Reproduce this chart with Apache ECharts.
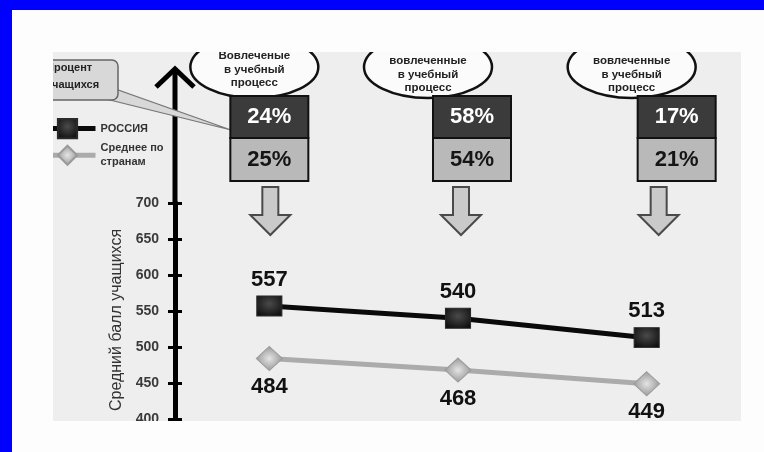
<!DOCTYPE html>
<html>
<head>
<meta charset="utf-8">
<script src="https://cdn.jsdelivr.net/npm/echarts@6/dist/echarts.min.js"></script>
<style>
  html, body { margin: 0; padding: 0; background: #fdfdfd; }
  #main { width: 764px; height: 452px; }
</style>
</head>
<body>
<div id="main"></div>
<script>
// groups of pupils by involvement in the learning process
var categories = ['Вовлеченные', 'Слабо вовлеченные', 'Не вовлеченные'];
var groupCaptions = [
  ['Вовлеченые', 'в учебный', 'процесс'],
  ['Слабо', 'вовлеченные', 'в учебный', 'процесс'],
  ['Не', 'вовлеченные', 'в учебный', 'процесс']
];
var russiaScore = [557, 540, 513];   // средний балл, Россия
var averageScore = [484, 468, 449];  // средний балл, среднее по странам
var russiaShare = [24, 58, 17];      // процент учащихся, Россия
var averageShare = [25, 54, 21];     // процент учащихся, среднее по странам
var yTicks = [400, 450, 500, 550, 600, 650, 700];

var FONT = 'Liberation Sans, Arial, sans-serif';

var dom = document.getElementById('main');
var chart = echarts.init(dom);

chart.setOption({
  animation: false,
  backgroundColor: '#fdfdfd',
  grid: { left: 175, right: 23, top: 203, bottom: 33 },
  legend: {
    orient: 'vertical',
    left: 32,
    top: 113,
    itemWidth: 56,
    itemHeight: 24,
    itemGap: 2,
    z: 4,
    lineStyle: { width: 5 },
    textStyle: { fontFamily: FONT, fontSize: 11, fontWeight: 'bold', color: '#333', lineHeight: 14 },
    data: ['РОССИЯ', 'Среднее по\nстранам']
  },
  xAxis: {
    type: 'category',
    data: categories,
    axisLine: { show: false },
    axisTick: { show: false },
    axisLabel: { show: false }
  },
  yAxis: [{
    type: 'value',
    min: yTicks[0],
    max: yTicks[yTicks.length - 1],
    interval: 50,
    splitLine: { show: false },
    axisLine: { show: true, lineStyle: { color: '#000', width: 5 } },
    axisTick: { show: true, length: 7, lineStyle: { color: '#000', width: 3 } },
    axisLabel: { margin: 16, fontFamily: FONT, fontSize: 14, fontWeight: 'bold', color: '#3a3a3a' }
  }, {
    // second copy only to draw the inner half of the ticks
    type: 'value',
    position: 'left',
    min: yTicks[0],
    max: yTicks[yTicks.length - 1],
    interval: 50,
    splitLine: { show: false },
    axisLine: { show: false },
    axisTick: { show: true, inside: true, length: 7, lineStyle: { color: '#000', width: 3 } },
    axisLabel: { show: false }
  }],
  series: [{
    name: 'РОССИЯ',
    type: 'line',
    data: russiaScore,
    symbol: 'rect',
    symbolSize: [25, 20],
    z: 3,
    lineStyle: { color: '#0a0a0a', width: 5 },
    itemStyle: {
      color: new echarts.graphic.RadialGradient(0.5, 0.4, 0.7, [
        { offset: 0, color: '#4a4a4a' }, { offset: 1, color: '#0a0a0a' }
      ]),
      borderColor: '#2a2a2a',
      borderWidth: 1
    },
    label: {
      show: true, position: 'top', distance: 5,
      fontFamily: FONT, fontSize: 22, fontWeight: 'bold', color: '#111'
    }
  }, {
    name: 'Среднее по\nстранам',
    type: 'line',
    data: averageScore,
    symbol: 'diamond',
    symbolSize: [26, 24],
    lineStyle: { color: '#ababab', width: 5 },
    itemStyle: {
      color: new echarts.graphic.RadialGradient(0.5, 0.5, 0.6, [
        { offset: 0, color: '#e4e4e4' }, { offset: 1, color: '#8a8a8a' }
      ]),
      borderColor: '#9a9a9a',
      borderWidth: 1
    },
    label: {
      show: true, position: 'bottom', distance: 5,
      fontFamily: FONT, fontSize: 22, fontWeight: 'bold', color: '#111'
    }
  }]
});

// annotations on top of the chart, placed from the axis pixels
function buildGraphics() {
  var g = [];
  var p700 = chart.convertToPixel({ gridIndex: 0 }, [0, 700]);
  var p400 = chart.convertToPixel({ gridIndex: 0 }, [0, 400]);
  var axisX = 175; // grid left edge = y axis
  var y700 = p700[1];
  var y400 = p400[1];

  // gray panel behind everything
  g.push({ type: 'rect', z: -10, silent: true,
    shape: { x: 53, y: 52, width: 688, height: 369 },
    style: { fill: '#eeeeee' } });

  // axis line going on to the arrow
  g.push({ type: 'line', z: 5, shape: { x1: axisX, y1: y700, x2: axisX, y2: 70 },
    style: { stroke: '#000', lineWidth: 5 } });
  g.push({ type: 'line', z: 5, shape: { x1: axisX, y1: y400, x2: axisX, y2: 426 },
    style: { stroke: '#000', lineWidth: 5 } });
  g.push({ type: 'polyline', z: 5,
    shape: { points: [[axisX - 19, 87], [axisX, 69], [axisX + 19, 87]] },
    style: { stroke: '#000', lineWidth: 5, fill: null } });

  // y axis title
  g.push({ type: 'text', z: 5, x: axisX - 58, y: y400 - 99, rotation: Math.PI / 2,
    style: { text: 'Средний балл учащихся', fontFamily: FONT, fontSize: 16, fill: '#333',
      align: 'center', verticalAlign: 'middle' } });

  // callout "Процент учащихся"
  g.push({ type: 'polygon', z: 6,
    shape: { points: [[106, 99], [118, 90], [231, 130]] },
    style: { fill: '#d8d8d8', stroke: '#777', lineWidth: 1.2 } });
  g.push({ type: 'rect', z: 6,
    shape: { x: 38, y: 60, width: 80, height: 40, r: 6 },
    style: { fill: '#d8d8d8', stroke: '#666', lineWidth: 1.5 } });
  g.push({ type: 'text', z: 7, x: 46, y: 68,
    style: { text: 'Процент', fontFamily: FONT, fontSize: 11, fontWeight: 'bold', fill: '#222',
      verticalAlign: 'middle' } });
  g.push({ type: 'text', z: 7, x: 46, y: 85,
    style: { text: 'учащихся', fontFamily: FONT, fontSize: 11, fontWeight: 'bold', fill: '#222',
      verticalAlign: 'middle' } });

  var ellipseShift = [-15, -30, -15];
  var boxShift = [0, 14, 30];
  var arrowShift = [1, 3, 12];

  for (var i = 0; i < categories.length; i++) {
    var cx = chart.convertToPixel({ gridIndex: 0 }, [i, 500])[0];

    // ellipse with group caption
    var ex = cx + ellipseShift[i];
    g.push({ type: 'ellipse', z: 6, shape: { cx: ex, cy: 67, rx: 64, ry: 31 },
      style: { fill: '#fbfbfb', stroke: '#111', lineWidth: 2.5 } });
    var lines = groupCaptions[i];
    var lastY = i === 0 ? 83 : 88;
    for (var k = 0; k < lines.length; k++) {
      g.push({ type: 'text', z: 7, x: ex, y: lastY - (lines.length - 1 - k) * 13.5,
        style: { text: lines[k], fontFamily: FONT, fontSize: 11.5, fontWeight: 'bold', fill: '#222',
          align: 'center', verticalAlign: 'middle' } });
    }

    // share boxes
    var bx = cx + boxShift[i];
    g.push({ type: 'rect', z: 6, shape: { x: bx - 39, y: 96, width: 78, height: 42 },
      style: { fill: '#3b3b3b', stroke: '#111', lineWidth: 2 } });
    g.push({ type: 'rect', z: 6, shape: { x: bx - 39, y: 138, width: 78, height: 43 },
      style: { fill: '#b9b9b9', stroke: '#111', lineWidth: 2 } });
    g.push({ type: 'text', z: 7, x: bx, y: 117,
      style: { text: russiaShare[i] + '%', fontFamily: FONT, fontSize: 22, fontWeight: 'bold',
        fill: '#ffffff', align: 'center', verticalAlign: 'middle' } });
    g.push({ type: 'text', z: 7, x: bx, y: 160,
      style: { text: averageShare[i] + '%', fontFamily: FONT, fontSize: 22, fontWeight: 'bold',
        fill: '#151515', align: 'center', verticalAlign: 'middle' } });

    // hollow down arrow
    var ax = cx + arrowShift[i];
    var top = 187;
    g.push({ type: 'polygon', z: 6,
      shape: { points: [[ax - 8, top], [ax + 8, top], [ax + 8, top + 28], [ax + 20, top + 28],
        [ax, top + 48], [ax - 20, top + 28], [ax - 8, top + 28]] },
      style: { fill: '#cacaca', stroke: '#4a4a4a', lineWidth: 2 } });
  }

  // white margins that crop the picture, then the blue frame
  g.push({ type: 'rect', z: 50, silent: true, shape: { x: 0, y: 0, width: 764, height: 52 }, style: { fill: '#fdfdfd' } });
  g.push({ type: 'rect', z: 50, silent: true, shape: { x: 0, y: 0, width: 53, height: 452 }, style: { fill: '#fdfdfd' } });
  g.push({ type: 'rect', z: 50, silent: true, shape: { x: 0, y: 421, width: 764, height: 31 }, style: { fill: '#fdfdfd' } });
  g.push({ type: 'rect', z: 50, silent: true, shape: { x: 741, y: 0, width: 23, height: 452 }, style: { fill: '#fdfdfd' } });
  g.push({ type: 'rect', z: 60, silent: true, shape: { x: 0, y: 0, width: 764, height: 10 }, style: { fill: '#0000fe' } });
  g.push({ type: 'rect', z: 60, silent: true, shape: { x: 0, y: 0, width: 12, height: 452 }, style: { fill: '#0000fe' } });
  return g;
}

chart.setOption({ graphic: buildGraphics() });
</script>
</body>
</html>
